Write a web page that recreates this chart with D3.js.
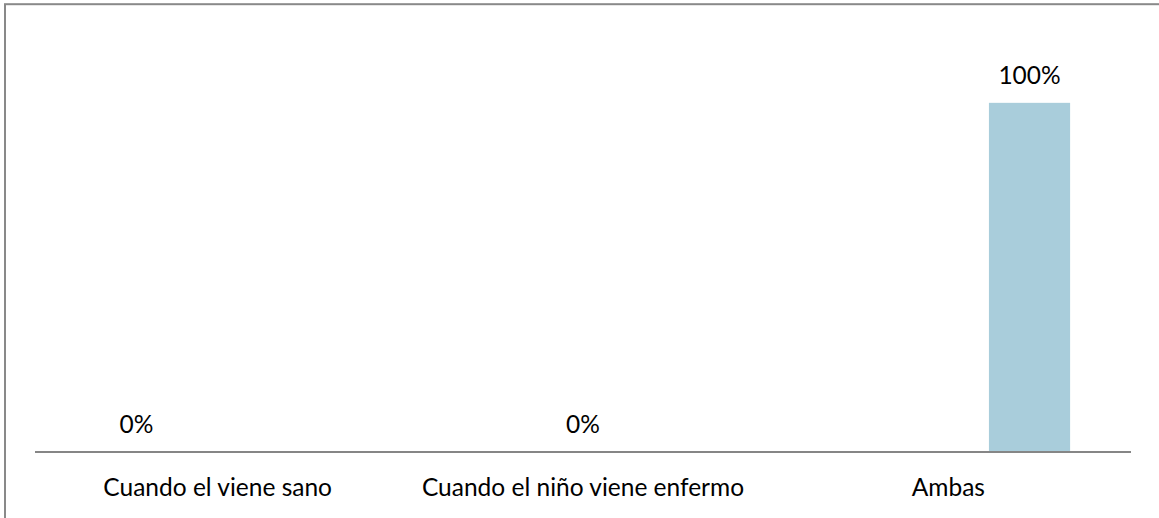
<!DOCTYPE html>
<html>
<head>
<meta charset="utf-8">
<script src="https://cdn.jsdelivr.net/npm/d3@7"></script>
<style>
  html, body { margin: 0; padding: 0; background: #fff; }
  svg { display: block; }
  text { font-family: Lato, "Liberation Sans", sans-serif; fill: #000; }
</style>
</head>
<body>
<svg id="chart" width="1159" height="518"></svg>
<script>
// ---- data ----
const categories = ["Cuando el viene sano", "Cuando el niño viene enfermo", "Ambas"];
const seriesNames = ["Serie 1", "Serie 2", "Serie 3"];
const serie1 = [0, null, null];
const serie2 = [null, 0, null];
const serie3 = [null, null, 1];
const seriesValues = [serie1, serie2, serie3];
const yMax = 1.2;

// ---- layout ----
const W = 1159, H = 518;
const plot = { left: 35, right: 1131, top: 33, bottom: 452 };
const fontSize = 24.5;

const svg = d3.select("#chart");

// outer chart border
svg.append("rect")
  .attr("x", 5).attr("y", 4.2)
  .attr("width", W + 10).attr("height", H + 10)
  .attr("fill", "none").attr("stroke", "#898989").attr("stroke-width", 2);

const x0 = d3.scaleBand().domain(categories).range([plot.left, plot.right]).paddingInner(0).paddingOuter(0);
const x1 = d3.scaleBand().domain(seriesNames).range([0, x0.bandwidth()]).paddingInner(0).paddingOuter(0.75);
const y = d3.scaleLinear().domain([0, yMax]).range([plot.bottom, plot.top]);

const flat = [];
seriesValues.forEach((vals, si) => {
  vals.forEach((v, ci) => {
    if (v !== null) flat.push({ cat: categories[ci], ser: seriesNames[si], value: v });
  });
});

// bars
svg.append("g").selectAll("rect").data(flat).join("rect")
  .attr("x", d => x0(d.cat) + x1(d.ser))
  .attr("width", x1.bandwidth())
  .attr("y", d => y(d.value))
  .attr("height", d => y(0) - y(d.value))
  .attr("fill", "#a9cddb");

// data labels
const fmt = d3.format(".0%");
svg.append("g").selectAll("text").data(flat).join("text")
  .attr("x", d => x0(d.cat) + x1(d.ser) + x1.bandwidth() / 2)
  .attr("y", d => y(d.value) - 19)
  .attr("text-anchor", "middle")
  .style("font-size", fontSize + "px")
  .text(d => fmt(d.value));

// category axis
const xAxis = d3.axisBottom(x0).tickSize(0).tickPadding(0);
const gx = svg.append("g").attr("transform", `translate(0,${plot.bottom})`).call(xAxis);
gx.select(".domain").attr("stroke", "#868686").attr("stroke-width", 2).attr("d", `M${plot.left},0H${plot.right}`);
gx.selectAll(".tick text")
  .attr("dy", null)
  .attr("y", 43.5)
  .style("font-size", fontSize + "px")
  .style("font-family", "Lato, 'Liberation Sans', sans-serif")
  .attr("fill", "#000");
</script>
</body>
</html>
